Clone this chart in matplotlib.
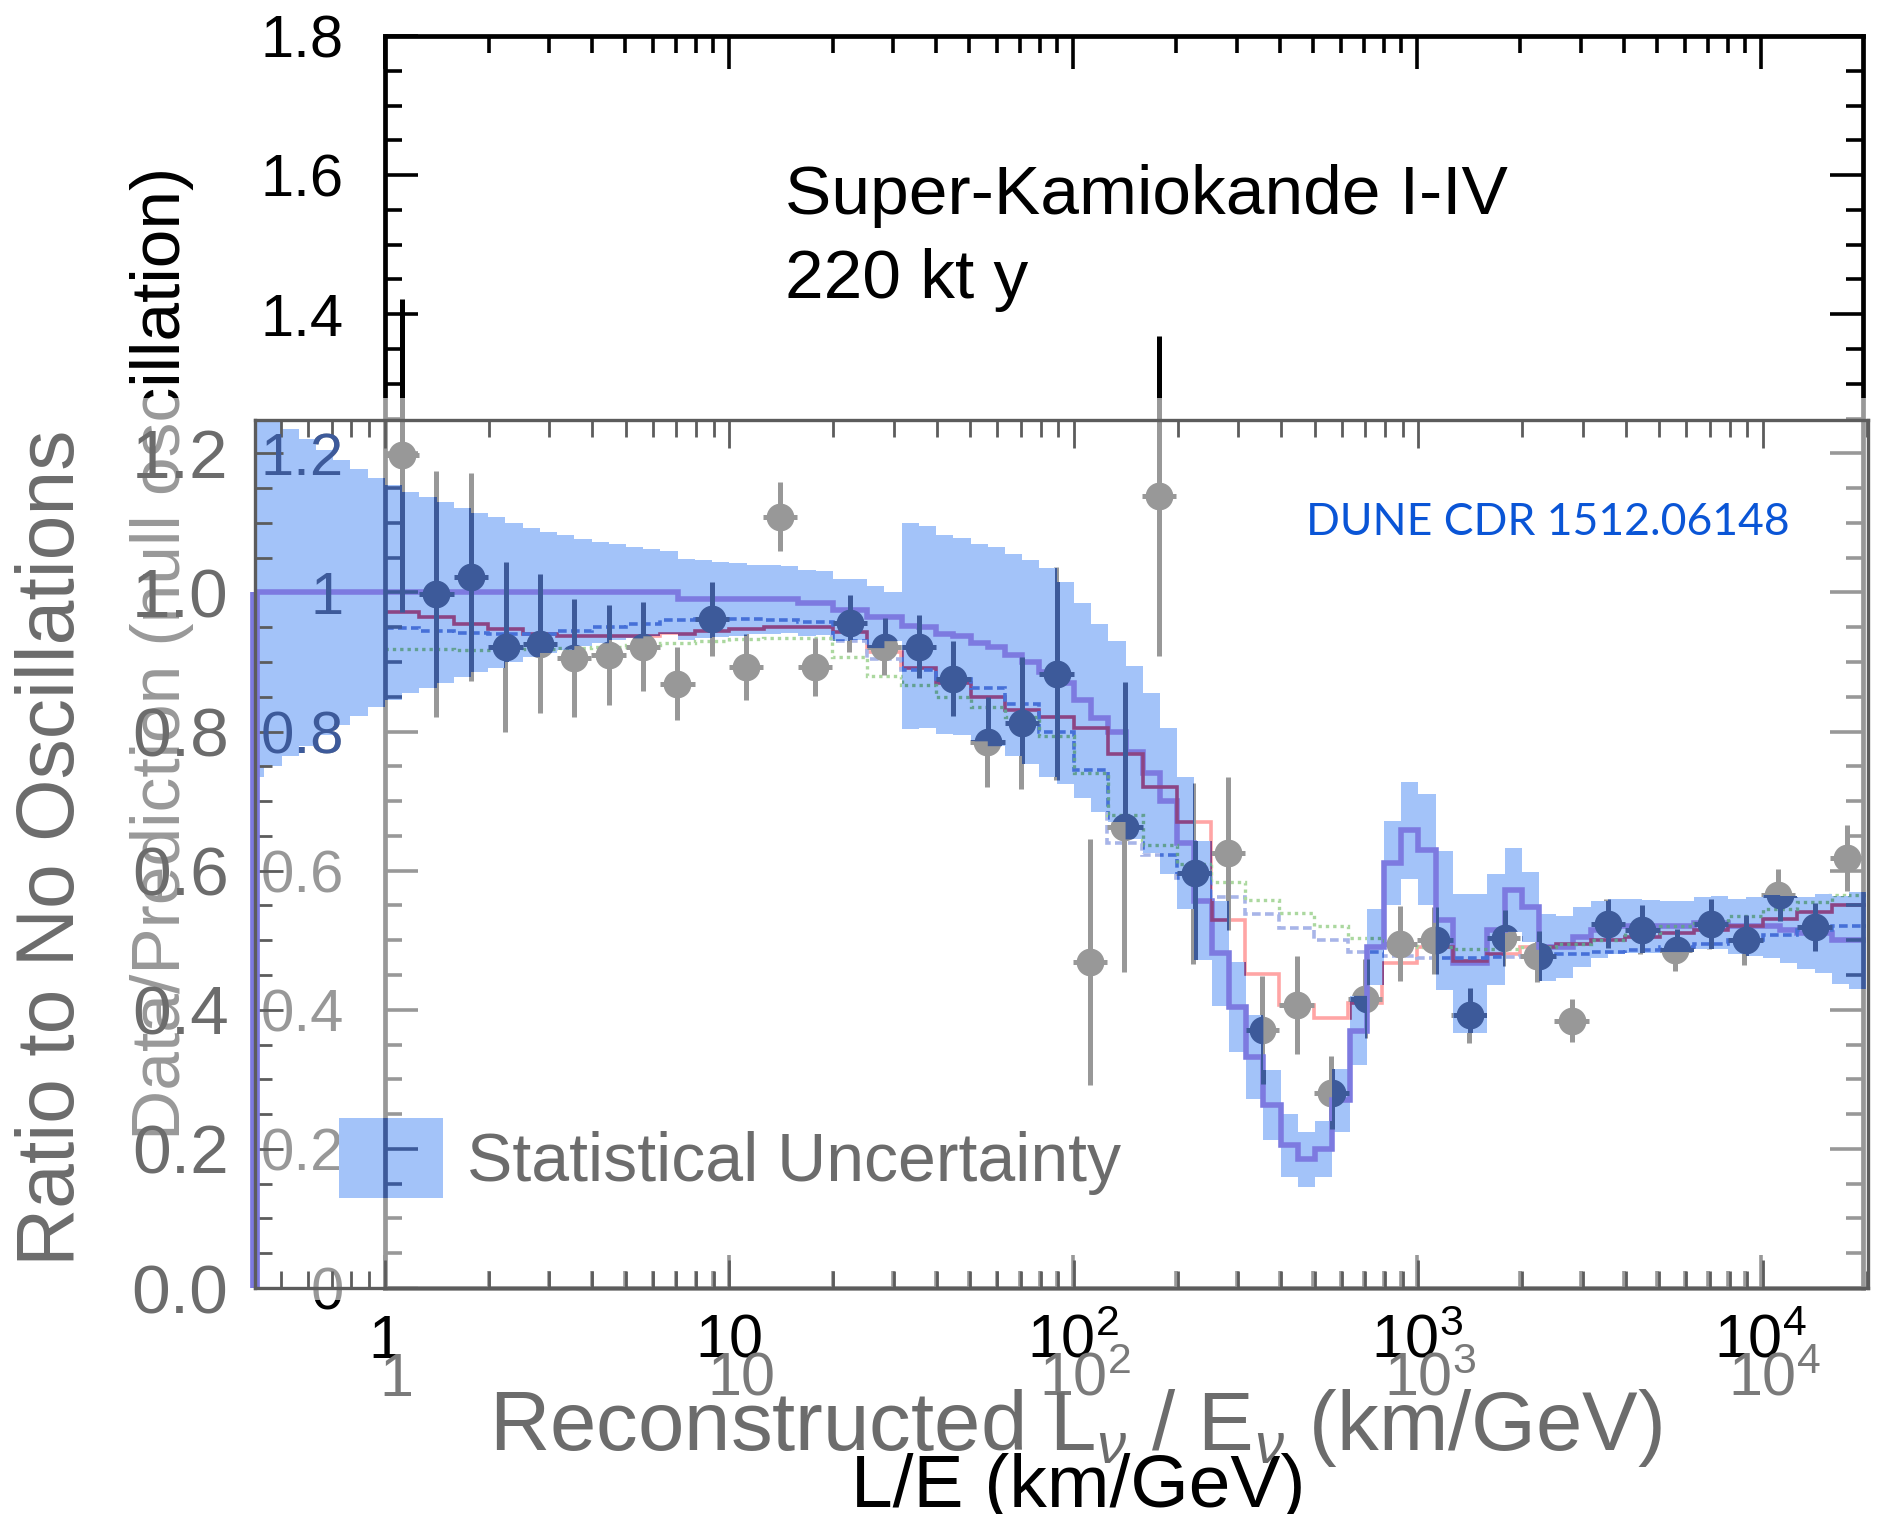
import numpy as np
import matplotlib.pyplot as plt
from matplotlib import font_manager
from matplotlib.patches import Rectangle
from matplotlib.ticker import MultipleLocator, LogLocator, NullFormatter

plt.rcParams['font.family'] = ['Liberation Sans', 'DejaVu Sans']
plt.rcParams['mathtext.fontset'] = 'custom'
plt.rcParams['mathtext.rm'] = 'Liberation Sans'
plt.rcParams['mathtext.it'] = 'Liberation Sans:italic'
installed = {f.name for f in font_manager.fontManager.ttflist}
narrow = 'Liberation Sans Narrow' if 'Liberation Sans Narrow' in installed else 'Liberation Sans'

# Super-Kamiokande I-IV: data / null-oscillation prediction (bin centres in km/GeV)
sk_le = [1.12, 1.41, 1.78, 2.24, 2.82, 3.55, 4.47, 5.62, 7.08, 8.91,
         11.2, 14.1, 17.8, 22.4, 28.2, 35.5, 44.7, 56.2, 70.8, 89.1,
         112, 141, 178, 224, 282, 355, 447, 562, 708, 891,
         1122, 1413, 1778, 2239, 2818, 3548, 4467, 5623, 7079, 8913,
         11220, 14125, 17783]
sk_ratio = [1.197, 0.998, 1.022, 0.922, 0.926, 0.906, 0.910, 0.922, 0.869, 0.962,
            0.893, 1.109, 0.893, 0.956, 0.922, 0.922, 0.876, 0.785, 0.812, 0.883,
            0.469, 0.663, 1.138, 0.596, 0.625, 0.371, 0.407, 0.281, 0.416, 0.495,
            0.500, 0.392, 0.503, 0.477, 0.384, 0.524, 0.515, 0.486, 0.524, 0.500,
            0.565, 0.519, 0.618]
sk_err = [0.225, 0.177, 0.150, 0.122, 0.100, 0.085, 0.072, 0.064, 0.053, 0.053,
          0.048, 0.050, 0.042, 0.041, 0.041, 0.045, 0.054, 0.065, 0.095, 0.153,
          0.177, 0.208, 0.230, 0.130, 0.110, 0.077, 0.070, 0.052, 0.057, 0.054,
          0.048, 0.040, 0.040, 0.037, 0.031, 0.035, 0.035, 0.030, 0.036, 0.036,
          0.037, 0.035, 0.047]

# SK model curves, one value per 0.1-decade bin between 1 and 10^4.3 km/GeV
sk_osc = [0.972, 0.965, 0.955, 0.948, 0.941, 0.938, 0.937, 0.937, 0.941, 0.945,
          0.948, 0.950, 0.950, 0.943, 0.915, 0.891, 0.870, 0.850, 0.831, 0.821,
          0.805, 0.768, 0.720, 0.670, 0.529, 0.452, 0.407, 0.388, 0.410, 0.467,
          0.490, 0.470, 0.480, 0.490, 0.495, 0.500, 0.505, 0.510, 0.515, 0.520,
          0.530, 0.540, 0.550]
sk_decay = [0.949, 0.945, 0.942, 0.940, 0.940, 0.945, 0.950, 0.955, 0.960, 0.962,
            0.962, 0.961, 0.958, 0.930, 0.905, 0.888, 0.876, 0.862, 0.840, 0.800,
            0.745, 0.640, 0.622, 0.590, 0.562, 0.538, 0.517, 0.500, 0.483, 0.478,
            0.475, 0.475, 0.476, 0.478, 0.480, 0.483, 0.486, 0.490, 0.495, 0.500,
            0.508, 0.515, 0.520]
sk_decoh = [0.919, 0.919, 0.918, 0.918, 0.919, 0.920, 0.922, 0.925, 0.928, 0.930,
            0.933, 0.934, 0.934, 0.907, 0.880, 0.867, 0.850, 0.836, 0.821, 0.793,
            0.740, 0.680, 0.637, 0.610, 0.584, 0.558, 0.539, 0.520, 0.503, 0.495,
            0.490, 0.488, 0.488, 0.490, 0.495, 0.500, 0.510, 0.520, 0.525, 0.535,
            0.545, 0.555, 0.565]

# DUNE CDR expectation (ratio to no oscillations) and statistical half-width, 0.05-decade bins
dune_pred = [1.0] * 25 + [0.99] * 7 + [
    0.985, 0.985, 0.975, 0.975, 0.965, 0.965, 0.952, 0.950, 0.940, 0.937,
    0.928, 0.922, 0.910, 0.900, 0.885, 0.870, 0.845, 0.820, 0.800, 0.770,
    0.740, 0.700, 0.640, 0.557, 0.481, 0.404, 0.332, 0.263, 0.205, 0.185,
    0.200, 0.270, 0.370, 0.490, 0.611, 0.658, 0.630, 0.529, 0.467, 0.467,
    0.515, 0.572, 0.548, 0.490, 0.490, 0.505,
    0.515, 0.520, 0.520, 0.520, 0.520, 0.520, 0.525, 0.525, 0.520, 0.520,
    0.520, 0.515, 0.510, 0.510, 0.500, 0.500]
dune_stat = [0.265, 0.250, 0.235, 0.220, 0.205, 0.190, 0.178, 0.165, 0.155, 0.145,
             0.137, 0.130, 0.122, 0.115, 0.108, 0.100, 0.093, 0.087, 0.082, 0.077,
             0.073, 0.069, 0.066, 0.063, 0.060, 0.058, 0.056, 0.054, 0.052, 0.050,
             0.049, 0.048, 0.047, 0.046, 0.045, 0.044, 0.045, 0.035, 0.148, 0.145,
             0.143, 0.142, 0.142, 0.143, 0.145, 0.147, 0.150, 0.145, 0.140, 0.135,
             0.130, 0.125, 0.115, 0.105, 0.095, 0.085, 0.075, 0.065, 0.060, 0.050,
             0.045, 0.040, 0.040, 0.045, 0.050, 0.055, 0.060, 0.070, 0.080, 0.100,
             0.100, 0.100, 0.080, 0.060, 0.050, 0.048, 0.045, 0.043, 0.041, 0.040,
             0.039, 0.038, 0.037, 0.037, 0.037, 0.038, 0.040, 0.042, 0.045, 0.048,
             0.052, 0.057, 0.063, 0.070]

sk_yticks = [0, 0.2, 0.4, 0.6, 0.8, 1.0, 1.2, 1.4, 1.6, 1.8]
dune_yticks = [0.0, 0.2, 0.4, 0.6, 0.8, 1.0, 1.2]
decades = [1, 10, 100, 1000, 10000]
decade_labels = ['1', '10', r'10$^{2}$', r'10$^{3}$', r'10$^{4}$']

sk_edges = 10 ** np.linspace(0, 4.3, 44)
dune_edges = 10 ** np.r_[-0.377, np.linspace(-0.35, 4.30, 94)]

band_col = '#a3c3f9'
purple = '#7d7ae0'
navy = '#3d5a9a'
dune_grey = '#6c6c6c'

W, H = 1879, 1514
SK_LABEL_X = -0.0277   # right edge of the SK y tick labels, in SK axes fraction


def box(left, top, right, bottom):
    return [left / W, 1 - bottom / H, (right - left) / W, (bottom - top) / H]


fig = plt.figure(figsize=(W / 100, H / 100), dpi=100)
ax_sk = fig.add_axes(box(385, 36, 1863, 1288))
ax_dn = fig.add_axes(box(255, 420, 1868, 1288))
ax_sk.set_zorder(0)
ax_dn.set_zorder(1)
for a in (ax_sk, ax_dn):
    a.patch.set_visible(False)
    a.set_xscale('log')
    a.xaxis.set_major_locator(LogLocator(base=10))
    a.xaxis.set_minor_locator(LogLocator(base=10, subs=np.arange(2, 10)))
    a.xaxis.set_minor_formatter(NullFormatter())

# ---- Super-K frame (black, washed out further down) ----
ax_sk.yaxis.set_major_locator(MultipleLocator(0.2))
ax_sk.yaxis.set_minor_locator(MultipleLocator(0.05))
ax_sk.tick_params(which='both', direction='in', top=True, right=True,
                  labelleft=False, labelbottom=False, color='black', width=2.6)
ax_sk.tick_params(which='major', length=24)
ax_sk.tick_params(which='minor', length=12)
for s in ax_sk.spines.values():
    s.set_linewidth(3.4)
    s.set_color('black')

le = np.array(sk_le)
xerr = [le - le / 10 ** 0.05, le * 10 ** 0.05 - le]


def sk_points(ax, color, z=5):
    return ax.errorbar(le, sk_ratio, yerr=sk_err, xerr=xerr, fmt='o', ms=20, mew=0,
                       color=color, ecolor=color, elinewidth=3.6, capsize=0, zorder=z)


def sk_curves(ax, colors, z=3):
    return [ax.stairs(sk_osc, sk_edges, baseline=None, color=colors[0], lw=2.6, zorder=z),
            ax.stairs(sk_decay, sk_edges, baseline=None, color=colors[1], lw=2.6,
                      ls=(0, (2.4, 1.2)), zorder=z),
            ax.stairs(sk_decoh, sk_edges, baseline=None, color=colors[2], lw=2.4,
                      ls=(0, (1, 1.2)), zorder=z)]


def sk_ylabels(ax, color, values):
    tr = ax_sk.get_yaxis_transform()
    for v in values:
        ax.text(SK_LABEL_X, v, f'{v:g}', transform=tr, ha='right', va='center_baseline',
                fontsize=43, color=color, zorder=4)


def sk_frame_copy(ax, color, clip):
    tr = ax_sk.get_yaxis_transform()
    arts = []
    for xa, sgn in ((0.0, 1), (1.0, -1)):
        arts += ax.plot([xa, xa], [0, 1.8], transform=tr, color=color, lw=3.4, zorder=4)
        for v in np.arange(0, 1.8001, 0.05):
            major = abs(v / 0.2 - round(v / 0.2)) < 1e-6
            ln = 0.0225 if major else 0.0115
            arts += ax.plot([xa, xa + sgn * ln], [v, v], transform=tr, color=color,
                            lw=2.6, zorder=4, solid_capstyle='butt')
    for a in arts:
        a.set_clip_path(clip)


sk_curves(ax_sk, ['#ff2020', '#2848c8', '#30a010'])
sk_points(ax_sk, 'black')
sk_ylabels(ax_sk, 'black', sk_yticks)
for v, lab in zip(decades, decade_labels):
    ax_sk.text(v, -0.0559, lab, transform=ax_sk.get_xaxis_transform(), ha='center',
               va='baseline', fontsize=44, color='black')
ax_sk.text(162 / W, 1 - 653 / H, 'Data/Prediction (null oscillation)', transform=fig.transFigure,
           rotation=90, ha='center', va='center', fontsize=50, color='black')
fig.text(785 / W, 1 - 189 / H, 'Super-Kamiokande I-IV', ha='left', va='center_baseline',
         fontsize=50, color='black')
fig.text(785 / W, 1 - 273 / H, '220 kt y', ha='left', va='center_baseline',
         fontsize=50, color='black')
ax_sk.text(1078 / W, 1 - 1507 / H, 'L/E (km/GeV)', transform=fig.transFigure,
           ha='center', va='baseline', fontsize=54, color='black')

# white veil over the lower part of the Super-K panel
fig.add_artist(Rectangle((0, 1 - 1300 / H), 1, (1300 - 398) / H, transform=fig.transFigure,
                         facecolor='white', edgecolor='none', alpha=0.6, zorder=0.5))

# ---- DUNE CDR panel ----
pred = np.array(dune_pred)
stat = np.array(dune_stat)
band = ax_dn.stairs(pred + stat, dune_edges, baseline=pred - stat, fill=True,
                    color=band_col, lw=0, zorder=1)
ax_dn.stairs(pred, dune_edges, baseline=None, color=purple, lw=4, zorder=2)
ax_dn.vlines(dune_edges[0], 0, dune_pred[0], color=purple, lw=7, clip_on=False, zorder=2)

legend_box = Rectangle((339 / W, 1 - 1198 / H), 104 / W, 80 / H, transform=fig.transFigure,
                       facecolor=band_col, edgecolor='none', zorder=1)
ax_dn.add_patch(legend_box)

# Super-K marks seen through the blue band come out darker
eb = sk_points(ax_dn, navy, z=5)
for art in [eb.lines[0]] + list(eb.lines[2]):
    art.set_clip_path(band)
for art in sk_curves(ax_dn, ['#8c4585', '#4670d8', '#62a092'], z=3):
    art.set_clip_path(band)
sk_frame_copy(ax_dn, navy, band)
sk_frame_copy(ax_dn, navy, legend_box)

# SK tick labels lying on the band (band read at the middle of the labels)
label_x = 10 ** ((SK_LABEL_X - 0.03) * 4.297)
k = np.searchsorted(dune_edges, label_x) - 1
lo_edge, hi_edge = pred[k] - stat[k], pred[k] + stat[k]
sk_ylabels(ax_dn, navy, [v for v in sk_yticks if lo_edge < v < hi_edge])

ax_dn.set_yticks(dune_yticks)
ax_dn.set_yticklabels([f'{v:.1f}' for v in dune_yticks])
ax_dn.yaxis.set_minor_locator(MultipleLocator(0.05))
ax_dn.tick_params(which='both', direction='in', top=True, right=False, left=True,
                  labelbottom=False, color='#5c5c5c', width=2)
ax_dn.tick_params(which='major', length=20, labelsize=50, labelcolor=dune_grey, pad=19)
ax_dn.tick_params(which='minor', length=12)
for s in ax_dn.spines.values():
    s.set_linewidth(2.4)
    s.set_color('#5c5c5c')
for v, lab in zip(decades, decade_labels):
    ax_dn.text(v * 1.08, -0.1244, lab, transform=ax_dn.get_xaxis_transform(), ha='center',
               va='baseline', fontsize=44, color='#7a7a7a', family=narrow)

fig.text(53 / W, 1 - 848 / H, 'Ratio to No Oscillations', rotation=90, ha='center',
         va='center', fontsize=58, color=dune_grey)
fig.text(1076 / W, 1 - 1450 / H, r'Reconstructed L$_{\nu}$ / E$_{\nu}$ (km/GeV)',
         ha='center', va='baseline', fontsize=60, color=dune_grey)
fig.text(467 / W, 1 - 1156 / H, 'Statistical Uncertainty', ha='left', va='center_baseline',
         fontsize=49, color=dune_grey)
fig.text(1306 / W, 1 - 519 / H, 'DUNE CDR 1512.06148', ha='left', va='center_baseline',
         fontsize=32, color='#0a55d6', family=['Lato', 'DejaVu Sans'])

ax_sk.set_xlim(1, 10 ** 4.297)
ax_sk.set_ylim(0, 1.8)
ax_dn.set_xlim(10 ** -0.377, 10 ** 4.305)
ax_dn.set_ylim(0, 1.248)

fig.savefig('out.png', dpi=100)
